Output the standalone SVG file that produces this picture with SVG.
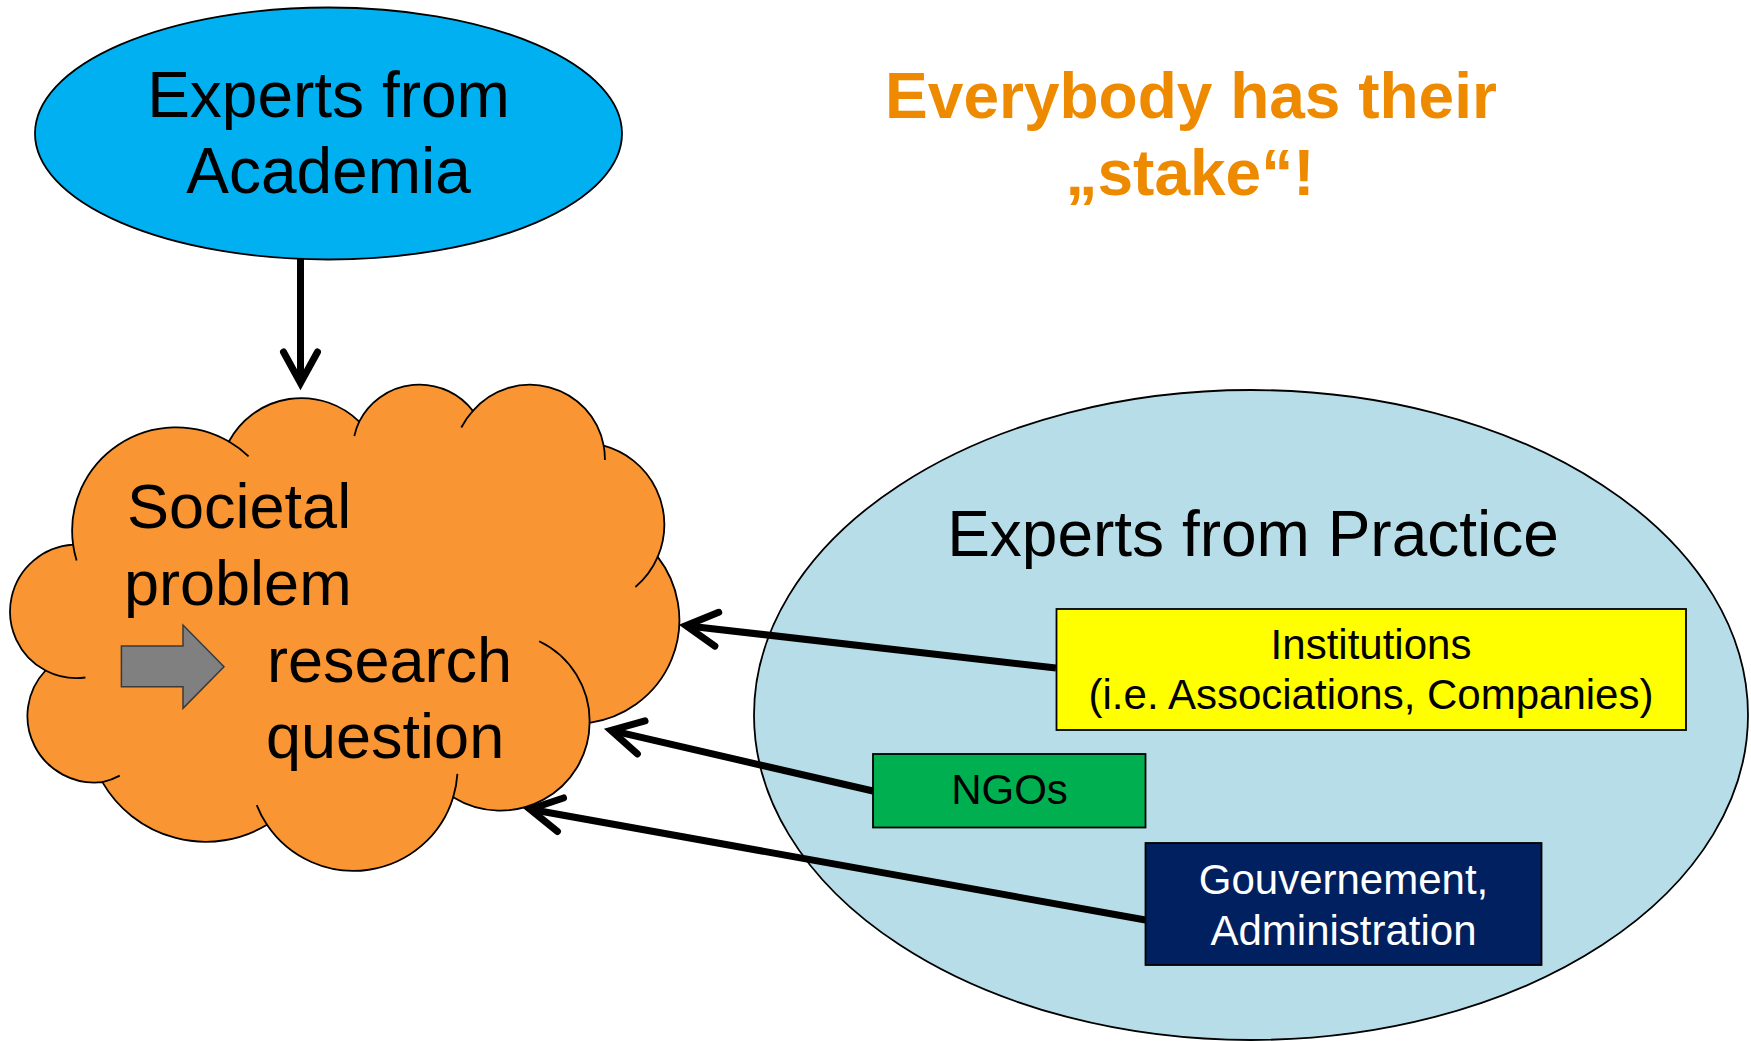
<svg xmlns="http://www.w3.org/2000/svg" width="1751" height="1041" viewBox="0 0 1751 1041">
  <style>
    .lbl { font-family: "Liberation Sans", Arial, sans-serif; fill: #000; }
    .big { font-size: 64px; }
    .box { font-size: 42px; }
    .title { font-family: "Liberation Sans", Arial, sans-serif; font-weight: bold; font-size: 64px; fill: #EE8A00; }
    .edge { stroke: #000; stroke-width: 1.8; }
    .conn { stroke: #000; stroke-width: 7; fill: none; marker-end: url(#openArrow); }
  </style>
  <defs>
    <marker id="openArrow" markerUnits="userSpaceOnUse" orient="auto" refX="0" refY="0"
            markerWidth="80" markerHeight="80" viewBox="-40 -40 80 80" overflow="visible">
      <path d="M -31 -17 L 0 0 L -31 17" fill="none" stroke="#000" stroke-width="7"
            stroke-linecap="round" stroke-linejoin="miter"/>
    </marker>
  </defs>

  <rect width="1751" height="1041" fill="#fff"/>

  <!-- title -->
  <g id="title">
    <text class="title" x="1191" y="118" text-anchor="middle">Everybody has their</text>
    <text class="title" x="1190" y="195" text-anchor="middle">„stake“!</text>
  </g>

  <!-- academia -->
  <g id="academia">
    <ellipse cx="328.5" cy="133.5" rx="293.5" ry="126" fill="#00B0F0" class="edge"/>
    <text class="lbl big" x="328.5" y="117" text-anchor="middle">Experts from</text>
    <text class="lbl big" x="328.5" y="193" text-anchor="middle">Academia</text>
  </g>

  <!-- practice group -->
  <g id="practice">
    <ellipse cx="1251" cy="715" rx="497" ry="325" fill="#B7DEE8" class="edge"/>
    <text class="lbl big" x="1253" y="556" text-anchor="middle">Experts from Practice</text>
  </g>

  <g id="institutions">
    <rect x="1056.5" y="609" width="629.5" height="121" fill="#FFFF00" class="edge"/>
    <text class="lbl box" x="1371" y="659" text-anchor="middle">Institutions</text>
    <text class="lbl box" x="1371" y="709" text-anchor="middle">(i.e. Associations, Companies)</text>
  </g>

  <g id="ngos">
    <rect x="873" y="754" width="272.5" height="73.5" fill="#00B050" class="edge"/>
    <text class="lbl box" x="1009.5" y="804" text-anchor="middle">NGOs</text>
  </g>

  <g id="government">
    <rect x="1145.5" y="843" width="396" height="122" fill="#002060" class="edge"/>
    <text class="lbl box" x="1343.5" y="894" text-anchor="middle" style="fill:#fff">Gouvernement,</text>
    <text class="lbl box" x="1343.5" y="945" text-anchor="middle" style="fill:#fff">Administration</text>
  </g>

  <!-- societal problem cloud -->
  <g id="problem">
    <path fill="#F99532" class="edge" d="M 73.1 544.7
      A 104.1 103.4 0 0 1 228.9 441.5
      A 82.2 81.8 0 0 1 359.2 421.6
      A 67.3 66.9 0 0 1 472.9 410.9
      A 74.9 74.2 0 0 1 603.7 445.7
      A 82.2 81.8 0 0 1 657.7 556.9
      A 104.5 103.7 0 0 1 589.6 722.8
      A 89.2 88.5 0 0 1 453.2 797.2
      A 104.1 103.7 0 0 1 267.0 824.8
      A 119.0 118.6 0 0 1 102.4 782.1
      A 67.2 66.6 0 0 1 45.5 670.5
      A 67.0 66.9 0 0 1 73.1 544.7 Z"/>
    <!-- inner bump seams -->
    <path fill="none" class="edge" d="M 76.6 560.6 A 104.1 103.4 0 0 1 73.1 544.7
      M 85.4 677.5 A 67.0 66.9 0 0 1 45.5 670.5
      M 119.8 775.6 A 67.2 66.6 0 0 1 102.4 782.1
      M 267.0 824.8 A 104.1 103.7 0 0 1 256.7 805.2
      M 457.4 773.9 A 104.1 103.7 0 0 1 453.2 797.2
      M 539.2 641.2 A 89.2 88.5 0 0 1 589.6 722.8
      M 657.7 556.9 A 82.2 81.8 0 0 1 635.4 587.0
      M 603.7 445.7 A 74.9 74.2 0 0 1 604.9 460.0
      M 461.3 427.5 A 74.9 74.2 0 0 1 472.9 410.9
      M 354.3 436.1 A 67.3 66.9 0 0 1 359.2 421.6
      M 228.9 441.5 A 104.1 103.4 0 0 1 248.6 456.4"/>
    <text class="lbl" font-size="63" x="127" y="528">Societal</text>
    <text class="lbl" font-size="63" x="124" y="605">problem</text>
    <polygon points="121.4,646 183,646 183,625 224,666.7 183,708.3 183,686.7 121.4,686.7"
             fill="#808080" stroke="#3A3A3A" stroke-width="1.5"/>
    <text class="lbl" font-size="63" x="267" y="682">research</text>
    <text class="lbl" font-size="63" x="266" y="758">question</text>
  </g>

  <!-- connectors -->
  <g id="connectors">
    <line class="conn" x1="300.5" y1="259" x2="300.5" y2="383"/>
    <line class="conn" x1="1056" y1="668" x2="686" y2="625.7"/>
    <line class="conn" x1="873" y1="791" x2="611" y2="730.4"/>
    <line class="conn" x1="1145.5" y1="920" x2="530" y2="809.2"/>
  </g>
</svg>
